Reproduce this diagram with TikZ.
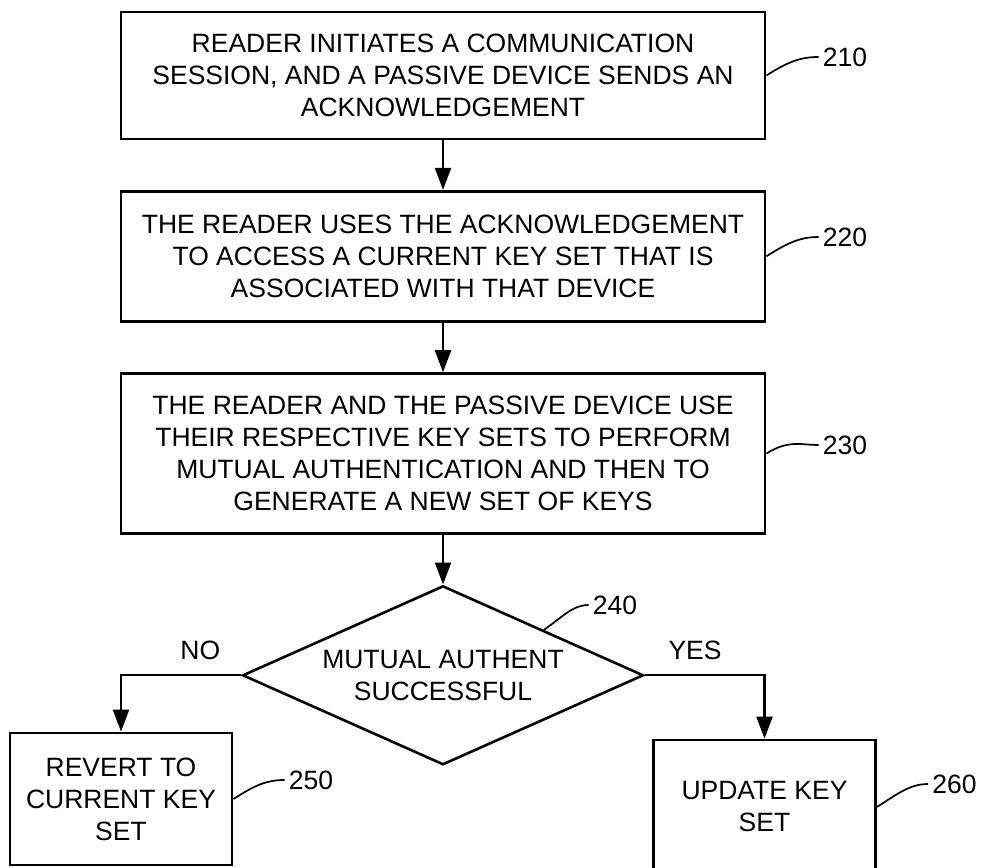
\documentclass[tikz,border=0pt]{standalone}
\usepackage{fontspec}
\setmainfont{Liberation Sans}
\usetikzlibrary{positioning,shapes.geometric,arrows.meta}

\begin{document}
\begin{tikzpicture}[x=1pt, y=-1pt, node distance=49.5pt,
    font=\fontsize{26.5}{32}\selectfont,
    stepbox/.style={draw, rectangle, line width=2.8pt, minimum width=644pt, align=center, inner sep=0pt},
    endbox/.style={draw, rectangle, line width=2.8pt, minimum width=222pt, align=center, inner sep=0pt},
    check/.style={draw, diamond, line width=2.6pt, minimum width=401pt, minimum height=179pt, aspect=2.24, align=center, inner sep=0pt},
    flow/.style={line width=2.2pt, -{Triangle[length=22pt, width=16pt]}},
    leader/.style={line width=1.7pt},
    tag/.style={inner sep=4pt}]
    \useasboundingbox (0,0) rectangle (982,867);

    % Steps
    \node[stepbox, minimum height=127pt] (init) at (443,75.5) {READER INITIATES A COMMUNICATION\\SESSION, AND A PASSIVE DEVICE SENDS AN\\ACKNOWLEDGEMENT};
    \node[stepbox, minimum height=130pt, below=of init] (lookup) {THE READER USES THE ACKNOWLEDGEMENT\\TO ACCESS A CURRENT KEY SET THAT IS\\ASSOCIATED WITH THAT DEVICE};
    \node[stepbox, minimum height=160pt, below=of lookup] (auth) {THE READER AND THE PASSIVE DEVICE USE\\THEIR RESPECTIVE KEY SETS TO PERFORM\\MUTUAL AUTHENTICATION AND THEN TO\\GENERATE A NEW SET OF KEYS};
    \node[check, below=of auth] (ok) {MUTUAL AUTHENT\\SUCCESSFUL};
    \node[endbox, minimum height=132pt] (revert) at (121,799) {REVERT TO\\CURRENT KEY\\SET};
    \node[endbox, minimum height=134pt] (update) at (764.5,807) {UPDATE KEY\\SET};

    % Reference numbers
    \node[tag] (n210) at (845,57) {210};
    \node[tag] (n220) at (845,237) {220};
    \node[tag] (n230) at (845,445) {230};
    \node[tag] (n240) at (615,605) {240};
    \node[tag] (n250) at (311,780) {250};
    \node[tag] (n260) at (954.5,784) {260};

    % Connections
    \draw[flow] (init) -- (lookup);
    \draw[flow] (lookup) -- (auth);
    \draw[flow] (auth) -- (ok);
    \draw[flow] (ok.west) -| node[pos=0.17, above=11pt] {NO} (revert.north);
    \draw[flow] (ok.east) -| node[pos=0.21, above=11pt] {YES} (update.north);

    % Leaders
    \draw[leader] (init.east) .. controls +(22pt,14pt) and +(-18pt,0pt) .. (n210.west);
    \draw[leader] (lookup.east) .. controls +(22pt,14pt) and +(-18pt,0pt) .. (n220.west);
    \draw[leader] (auth.east) .. controls +(22pt,14pt) and +(-18pt,0pt) .. (n230.west);
    \draw[leader] (ok.north east) .. controls +(20pt,14pt) and +(-16pt,0pt) .. (n240.west);
    \draw[leader] (revert.east) .. controls +(22pt,14pt) and +(-18pt,0pt) .. (n250.west);
    \draw[leader] (update.east) .. controls +(22pt,14pt) and +(-18pt,0pt) .. (n260.west);
\end{tikzpicture}
\end{document}
